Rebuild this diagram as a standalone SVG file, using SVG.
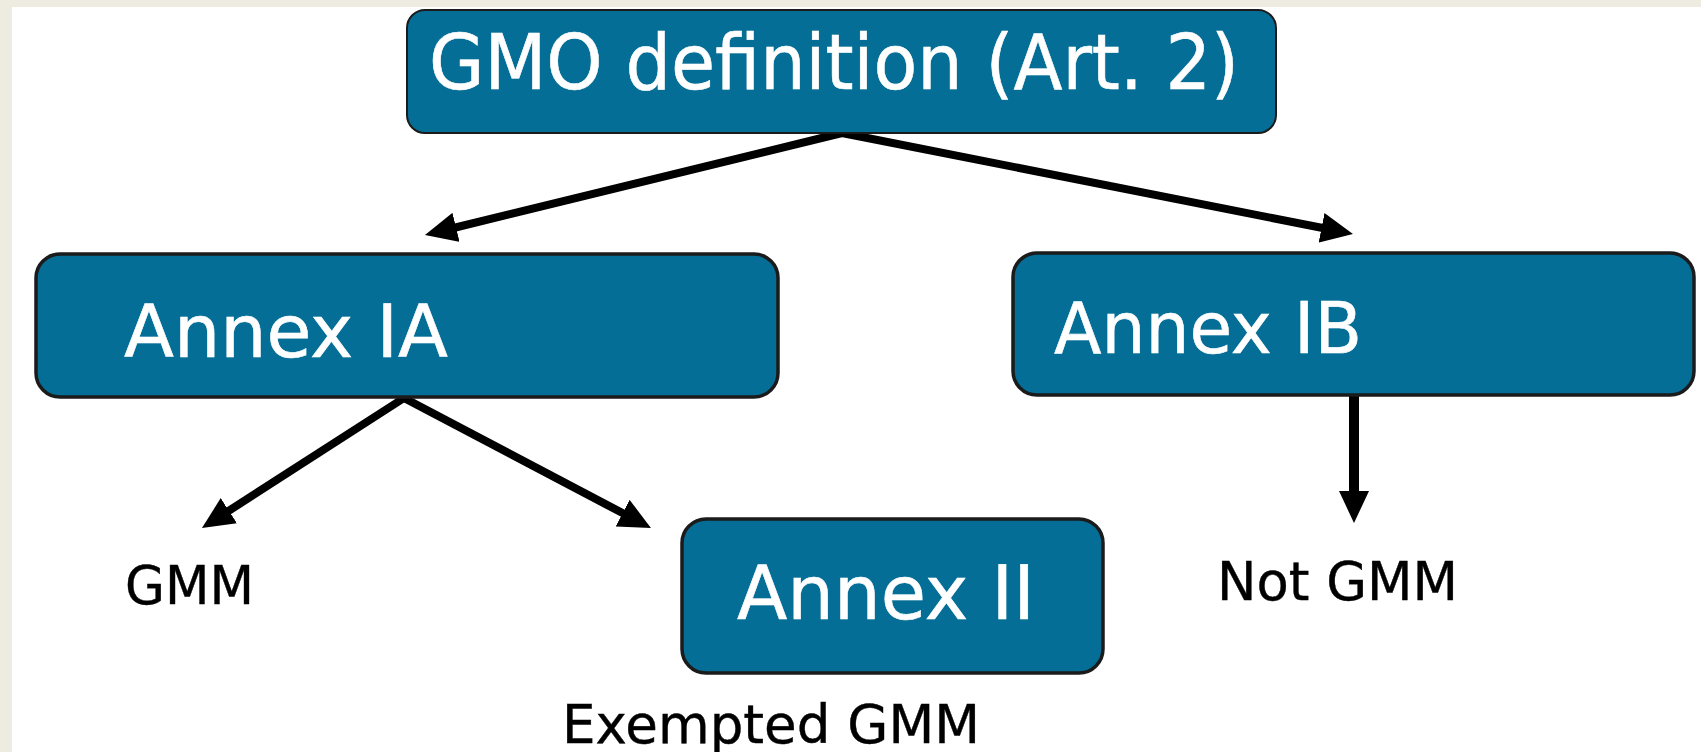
<svg xmlns="http://www.w3.org/2000/svg" width="1701" height="752" viewBox="0 0 1701 752">
<style>
.box{fill:#046e96;stroke:#1b1b1b;stroke-width:3.5}
.t{font-family:"DejaVu Sans","Verdana",sans-serif;fill:#ffffff;stroke:#ffffff;stroke-width:0.6}
.l{font-family:"DejaVu Sans","Verdana",sans-serif;fill:#000000;font-size:53px;stroke:#000;stroke-width:0.4}
.c{stroke:#000;stroke-width:8;fill:none;marker-end:url(#ah)}
</style>
<defs>
<marker id="ah" markerUnits="userSpaceOnUse" viewBox="0 0 32 30" markerWidth="32" markerHeight="30" refX="9" refY="15" orient="auto">
<path d="M0,0 L32,15 L0,30 z" fill="#000"/>
</marker>
</defs>
<rect x="0" y="0" width="1701" height="752" fill="#ffffff"/>
<rect x="0" y="0" width="1701" height="7" fill="#eeece1"/>
<rect x="0" y="0" width="12" height="752" fill="#eeece1"/>
<g id="connectors">
<line class="c" x1="842" y1="133" x2="447.3" y2="229.5"/>
<line class="c" x1="842" y1="133" x2="1330.4" y2="229.5"/>
<line class="c" x1="404" y1="398" x2="221.3" y2="515.6"/>
<line class="c" x1="404" y1="398" x2="630.6" y2="517.3"/>
<line class="c" style="stroke-width:10" x1="1354" y1="395" x2="1354" y2="500"/>
</g>
<g id="gmo">
<rect class="box" style="stroke-width:2" x="407" y="10" width="869" height="123" rx="18"/>
<text class="t" x="429" y="89" font-size="77" textLength="810" lengthAdjust="spacingAndGlyphs">GMO definition (Art. 2)</text>
</g>
<g id="annex-ia">
<rect class="box" x="36" y="254" width="742" height="143" rx="24"/>
<text class="t" x="124" y="357" font-size="73" textLength="324" lengthAdjust="spacingAndGlyphs">Annex IA</text>
</g>
<g id="annex-ib">
<rect class="box" x="1013" y="253" width="681" height="142" rx="24"/>
<text class="t" x="1054" y="353" font-size="72" textLength="308" lengthAdjust="spacingAndGlyphs">Annex IB</text>
</g>
<g id="annex-ii">
<rect class="box" x="682" y="519" width="421" height="154" rx="24"/>
<text class="t" x="737" y="619" font-size="74" textLength="298" lengthAdjust="spacingAndGlyphs">Annex II</text>
</g>
<g id="gmm">
<text class="l" x="125" y="604" textLength="129" lengthAdjust="spacingAndGlyphs">GMM</text>
</g>
<g id="not-gmm">
<text class="l" x="1217" y="600" textLength="241" lengthAdjust="spacingAndGlyphs">Not GMM</text>
</g>
<g id="exempted-gmm">
<text class="l" x="562" y="743" textLength="418" lengthAdjust="spacingAndGlyphs">Exempted GMM</text>
</g>
</svg>
